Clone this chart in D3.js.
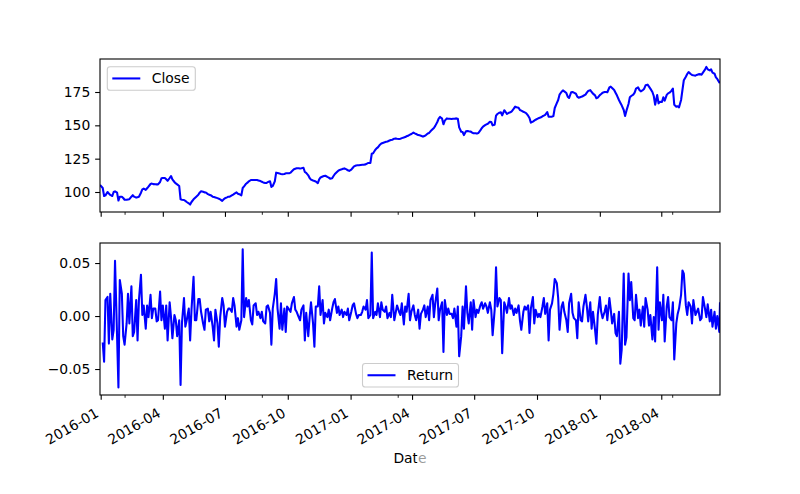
<!DOCTYPE html>
<html><head><meta charset="utf-8">
<script src="https://cdn.jsdelivr.net/npm/d3@7"></script>
<style>body{margin:0;background:#fff}svg{display:block}</style>
</head><body><svg id="c" width="800" height="494"></svg>
<script>
const dates = [
"2015-12-31",
"2016-01-04","2016-01-06","2016-01-08","2016-01-11","2016-01-13","2016-01-15","2016-01-18","2016-01-20","2016-01-22","2016-01-25","2016-01-27","2016-01-29",
"2016-02-01","2016-02-03","2016-02-05","2016-02-08","2016-02-10","2016-02-12","2016-02-15","2016-02-17","2016-02-19","2016-02-22","2016-02-24","2016-02-26",
"2016-02-29","2016-03-02","2016-03-04","2016-03-07","2016-03-09","2016-03-11","2016-03-14","2016-03-16","2016-03-18","2016-03-21","2016-03-23","2016-03-25",
"2016-03-28","2016-03-30","2016-04-01","2016-04-04","2016-04-06","2016-04-08","2016-04-11","2016-04-13","2016-04-15","2016-04-18","2016-04-20","2016-04-22",
"2016-04-25","2016-04-27","2016-04-29","2016-05-02","2016-05-04","2016-05-06","2016-05-09","2016-05-11","2016-05-13","2016-05-16","2016-05-18","2016-05-20",
"2016-05-23","2016-05-25","2016-05-27","2016-05-30","2016-06-01","2016-06-03","2016-06-06","2016-06-08","2016-06-10","2016-06-13","2016-06-15","2016-06-17",
"2016-06-20","2016-06-22","2016-06-24","2016-06-27","2016-06-29","2016-07-01","2016-07-04","2016-07-06","2016-07-08","2016-07-11","2016-07-13","2016-07-15",
"2016-07-18","2016-07-20","2016-07-22","2016-07-25","2016-07-27","2016-07-29","2016-08-01","2016-08-03","2016-08-05","2016-08-08","2016-08-10","2016-08-12",
"2016-08-15","2016-08-17","2016-08-19","2016-08-22","2016-08-24","2016-08-26","2016-08-29","2016-08-31","2016-09-02","2016-09-05","2016-09-07","2016-09-09",
"2016-09-12","2016-09-14","2016-09-16","2016-09-19","2016-09-21","2016-09-23","2016-09-26","2016-09-28","2016-09-30","2016-10-03","2016-10-05","2016-10-07",
"2016-10-10","2016-10-12","2016-10-14","2016-10-17","2016-10-19","2016-10-21","2016-10-24","2016-10-26","2016-10-28","2016-10-31","2016-11-02","2016-11-04",
"2016-11-07","2016-11-09","2016-11-11","2016-11-14","2016-11-16","2016-11-18","2016-11-21","2016-11-23","2016-11-25","2016-11-28","2016-11-30","2016-12-02",
"2016-12-05","2016-12-07","2016-12-09","2016-12-12","2016-12-14","2016-12-16","2016-12-19","2016-12-21","2016-12-23","2016-12-26","2016-12-28","2016-12-30",
"2017-01-02","2017-01-04","2017-01-06","2017-01-09","2017-01-11","2017-01-13","2017-01-16","2017-01-18","2017-01-20","2017-01-23","2017-01-25","2017-01-27",
"2017-01-30","2017-02-01","2017-02-03","2017-02-06","2017-02-08","2017-02-10","2017-02-13","2017-02-15","2017-02-17","2017-02-20","2017-02-22","2017-02-24",
"2017-02-27","2017-03-01","2017-03-03","2017-03-06","2017-03-08","2017-03-10","2017-03-13","2017-03-15","2017-03-17","2017-03-20","2017-03-22","2017-03-24",
"2017-03-27","2017-03-29","2017-03-31","2017-04-03","2017-04-05","2017-04-07","2017-04-10","2017-04-12","2017-04-14","2017-04-17","2017-04-19","2017-04-21",
"2017-04-24","2017-04-26","2017-04-28","2017-05-01","2017-05-03","2017-05-05","2017-05-08","2017-05-10","2017-05-12","2017-05-15","2017-05-17","2017-05-19",
"2017-05-22","2017-05-24","2017-05-26","2017-05-29","2017-05-31","2017-06-02","2017-06-05","2017-06-07","2017-06-09","2017-06-12","2017-06-14","2017-06-16",
"2017-06-19","2017-06-21","2017-06-23","2017-06-26","2017-06-28","2017-06-30","2017-07-03","2017-07-05","2017-07-07","2017-07-10","2017-07-12","2017-07-14",
"2017-07-17","2017-07-19","2017-07-21","2017-07-24","2017-07-26","2017-07-28","2017-07-31","2017-08-02","2017-08-04","2017-08-07","2017-08-09","2017-08-11",
"2017-08-14","2017-08-16","2017-08-18","2017-08-21","2017-08-23","2017-08-25","2017-08-28","2017-08-30","2017-09-01","2017-09-04","2017-09-06","2017-09-08",
"2017-09-11","2017-09-13","2017-09-15","2017-09-18","2017-09-20","2017-09-22","2017-09-25","2017-09-27","2017-09-29","2017-10-02","2017-10-04","2017-10-06",
"2017-10-09","2017-10-11","2017-10-13","2017-10-16","2017-10-18","2017-10-20","2017-10-23","2017-10-25","2017-10-27","2017-10-30","2017-11-01","2017-11-03",
"2017-11-06","2017-11-08","2017-11-10","2017-11-13","2017-11-15","2017-11-17","2017-11-20","2017-11-22","2017-11-24","2017-11-27","2017-11-29","2017-12-01",
"2017-12-04","2017-12-06","2017-12-08","2017-12-11","2017-12-13","2017-12-15","2017-12-18","2017-12-20","2017-12-22","2017-12-25","2017-12-27","2017-12-29",
"2018-01-01","2018-01-03","2018-01-05","2018-01-08","2018-01-10","2018-01-12","2018-01-15","2018-01-17","2018-01-19","2018-01-22","2018-01-24","2018-01-26",
"2018-01-29","2018-01-31","2018-02-02","2018-02-05","2018-02-07","2018-02-09","2018-02-12","2018-02-14","2018-02-16","2018-02-19","2018-02-21","2018-02-23",
"2018-02-26","2018-02-28","2018-03-02","2018-03-05","2018-03-07","2018-03-09","2018-03-12","2018-03-14","2018-03-16","2018-03-19","2018-03-21","2018-03-23",
"2018-03-26","2018-03-28","2018-03-30","2018-04-02","2018-04-04","2018-04-06","2018-04-09","2018-04-11","2018-04-13","2018-04-16","2018-04-18","2018-04-20",
"2018-04-23","2018-04-25","2018-04-27","2018-04-30","2018-05-02","2018-05-04","2018-05-07","2018-05-09","2018-05-11","2018-05-14","2018-05-16","2018-05-18",
"2018-05-21","2018-05-23","2018-05-25","2018-05-28","2018-05-30","2018-06-01","2018-06-04","2018-06-06","2018-06-08","2018-06-11","2018-06-13","2018-06-15",
"2018-06-18","2018-06-20","2018-06-22","2018-06-25","2018-06-26"
];

const closeValues = [
105.3,
103,97,97.5, 100,98.8,97.8, 97,100,100.5, 99.5,93.6,96.5,
96.5,95.5,94.2, 94.2,94.4,94.6, 96.5,97.6,96.5, 95.8,96.1,96.4,
99.5,102,102.5, 101.6,102.8,104, 106,106.3,105.9, 105.8,105.7,105.7,
107.5,110.3,110.5, 110.5,109.5,108.4, 110.5,112,109.4, 107.5,106.4,105.7,
104.5,94.5,94.2, 94,93.3,92.5, 91.5,90.6,92.5, 94.5,95.5,96.5,
97.9,99.5,100.5, 100.2,99.7,99.6, 98.4,98,97.6, 96.5,96.2,95.9,
95.4,95,94.5, 93.3,94.5,95.3, 96,96.5,96.5, 97.4,98,98.7,
99.7,98.7,98.4, 97.5,103,104.2, 106.2,107,108, 109,109,109,
109,109,108.7, 108.2,107.7,107.2, 106.7,106.8,107.5, 108,103.8,104.5,
108,114.5,114.3, 113.8,113.5,113.3, 113.5,114,114, 114,114.5,115.5,
117,117.4,117.75, 117.75,117.6,117.8, 118.2,115,114.3, 112.5,110.5,109.3,
108.6,108.3,107.9, 106.6,109.5,110.9, 111.6,112,112.2, 111.3,110.8,110,
110.3,112,113.5, 115,116,116.5, 117,117.4,117.7, 117,116.3,115.8,
116.8,118,119.2, 119.9,120,120.1, 120.3,120.4,120.5, 120.7,121.3,121.8,
121.8,128.7,129.1, 131.5,132.7,133.5, 135.5,136.4,136.8, 137.3,137.6,137.9,
138.6,139,139.2, 140,140.2,140, 139.8,140,140.4, 140.9,141.2,141.8,
142.4,143,143.5, 144.6,144,143.5, 142.7,142.5,142.2, 141.5,142,142.5,
143.9,144.3,145.5, 147,148,149.6, 152.5,155,156.3, 155,150.8,153.5,
155.2,155,154.9, 154.75,154.9,155, 155.2,155,148.5, 145.2,145,142.7,
145.6,145.8,145.5, 145.3,144.5,144, 144,143.8,144.2, 146.2,147.8,149,
150.1,150.7,151.2, 152.7,152.5,150, 150.5,157.3,158.5, 159.5,159.8,157.5,
161.3,160,158.5, 159.5,159.8,160.5, 162.5,164,163.6, 163.2,161.5,161,
160.2,159.7,159.2, 157.2,155.5,152, 152.8,153.5,154.2, 155,155.5,155.8,
156.8,157.3,157.8, 160,156.5,156.5, 156.5,157,163, 166.7,169,173,
175.2,176.2,175.5, 174.2,171.5,170.5, 174.8,175,174.5, 173.7,171.5,170.7,
171.3,171.6,172.2, 173,174.5,175.8, 176.4,175,173.8, 172.5,170.3,170.8,
172.7,173.5,174.5, 175,175,174.8, 178.4,179,178, 176.5,174.5,172.5,
169,167,165, 161.5,157,161, 166,171,172, 173,174.5,177.5,
178.5,176.5,175.5, 176.4,177.5,180, 180.5,179,177.5, 175,172,165.5,
172.7,166.5,167.7, 167.5,171,168.5, 172.8,174,174.5, 176,177.5,165.5,
164,164.3,163.5, 169,176.5,183.8, 186.5,188.5,190, 188.5,187.8,187.5,
187.3,187.8,188.2, 188.4,188,189.5, 191.8,193.8,192, 191.2,192,189.5,
188.7,186,184.8, 182.2,183
];

const returnValues = [
null,
-0.025,-0.043,0.015, 0.018,-0.026,0.021, -0.022,-0.013,0.052, -0.019,-0.0675,0.034,
0.021,-0.019,-0.027, -0.007,0.021,-0.007, 0.028,-0.019,-0.015, 0.015,-0.023,0.015,
0.039,0.001,0.010, -0.012,0.010,-0.001, 0.020,-0.002,0.007, 0.007,-0.005,-0.004,
0.023,-0.004,0.010, -0.012,0.010,-0.023, 0.013,-0.001,-0.021, 0.001,-0.004,-0.019,
-0.004,-0.065,-0.007, 0.017,-0.010,-0.004, 0.007,-0.023,0.006, 0.037,-0.004,-0.004,
0.016,0.016,0.004, -0.007,-0.013,0.006, 0.007,-0.005,0.004, -0.010,-0.023,0.006,
-0.007,-0.029,-0.001, 0.017,0.010,-0.010, 0.004,0.007,0.007, 0.004,0.017,0.010,
-0.010,-0.002,-0.013, -0.004,0.063,-0.001, 0.017,0.009,0.015, -0.004,-0.008,0.010,
0.012,0.001,0.004, -0.002,0.004,-0.005, -0.007,0.009,0.010, 0.003,-0.027,0.007,
0.021,0.035,0.007, -0.012,0.012,-0.013, 0.007,-0.015,0.009, 0.006,0.004,0.012,
0.018,0.006,0.004, -0.001,-0.004,0.006, 0.010,-0.023,0.003, -0.019,-0.001,0.013,
-0.007,-0.029,0.009, 0.009,0.028,0.001, 0.015,-0.007,0.003, -0.001,0.006,-0.004,
0.007,0.013,0.016, 0.003,0.009,0.001, 0.006,-0.001,0.004, 0.001,0.007,-0.004,
0.004,0.010,0.012, 0.002,-0.002,0.001, 0.001,0.004,0.009, 0.006,0.015,-0.002,
0.001,0.060,-0.002, 0.004,0.001,0.012, -0.001,0.013,0.006, 0.004,0.009,-0.002,
0.003,-0.001,0.020, -0.004,0.003,0.010, 0.004,0.001,0.012, -0.008,0.009,0.004,
0.021,-0.004,0.004, 0.010,0.001,-0.004, 0.006,-0.012,0.002, 0.006,0.010,-0.001,
0.009,-0.004,0.015, 0.020,-0.001,0.012, 0.026,-0.004,0.006, 0.013,-0.034,0.015,
0.001,0.007,0.002, 0.002,-0.002,0.007, -0.010,0.009,-0.038, -0.019,0.009,-0.012,
0.028,0.003,-0.007, 0.013,-0.013,0.015, -0.001,0.006,0.003, 0.010,0.013,0.007,
0.012,0.009,0.003, 0.013,0.006,-0.018, 0.006,0.046,0.009, 0.017,0.015,-0.035,
0.013,0.009,0.003, 0.017,0.007,0.010, 0.001,0.007,0.003, 0.010,-0.004,-0.013,
0.004,0.009,0.006, 0.010,-0.016,0.007, 0.018,-0.007,0.006, -0.001,0.002,-0.001,
0.009,0.017,0.002, 0.012,-0.023,0.006, 0.012,0.021,0.035, 0.031,0.017,-0.013,
0.009,0.013,0.004, -0.004,-0.015,0.012, 0.021,0.003,-0.002, -0.004,-0.021,0.013,
-0.004,-0.005,0.009, 0.020,0.009,-0.005, 0.013,-0.012,0.004, -0.013,-0.026,0.001,
0.018,0.004,-0.002, 0.004,0.010,-0.004, 0.017,0.006,-0.007, 0.002,-0.016,-0.019,
0.004,-0.045,-0.032, 0.040,-0.027,-0.020, 0.040,0.015,0.032, -0.002,-0.004,0.020,
-0.002,0.006,-0.009, 0.009,-0.010,0.017, 0.006,-0.009,0.001, -0.022,-0.001,-0.024,
0.046,-0.013,0.013, -0.004,0.020,-0.024, 0.009,0.018,-0.001, -0.004,0.013,-0.041,
-0.007,0.002,0.007, 0.020,0.043,0.040, 0.010,0.001,0.013, 0.009,-0.007,0.015,
0.001,0.004,0.007, -0.004,-0.002,0.018, 0.007,-0.001,0.011, -0.005,0.006,-0.010,
0.004,-0.012,0.000, -0.015,0.013
];

const closeTicks = [100, 125, 150, 175];
const returnTicks = [-0.05, 0, 0.05];
const majorTickDates = ["2016-01-01","2016-04-01","2016-07-01","2016-10-01","2017-01-01","2017-04-01","2017-07-01","2017-10-01","2018-01-01","2018-04-01"];
const minorTickDates = ["2016-02-05","2016-08-24","2017-03-11","2018-04-17"];

const FONT = '"DejaVu Sans", sans-serif';
const FS = 13.9;
const parse = d3.utcParse("%Y-%m-%d");
const rows = dates.map((d, i) => ({date: parse(d), close: closeValues[i], ret: returnValues[i]}));
const svg = d3.select("#c");

const L = 100, R = 720;
const top1 = 59, bot1 = 212, top2 = 243, bot2 = 395;
const x = d3.scaleUtc().domain(d3.extent(rows, d => d.date)).range([L, R]);
const yC = d3.scaleLinear().domain([85, 199.75]).range([bot1, top1]);
const yR = d3.scaleLinear().domain([-0.0745, 0.0689]).range([bot2, top2]);

const defs = svg.append("defs");
defs.append("clipPath").attr("id", "cp1").append("rect").attr("x", L).attr("y", top1).attr("width", R - L).attr("height", bot1 - top1);
defs.append("clipPath").attr("id", "cp2").append("rect").attr("x", L).attr("y", top2).attr("width", R - L).attr("height", bot2 - top2);

function styleAxis(g) {
  g.attr("font-family", FONT).attr("font-size", FS);
  g.select(".domain").remove();
  g.selectAll(".tick line").attr("stroke", "#000").attr("stroke-width", 1.1);
  g.selectAll(".tick text").attr("fill", "#000");
}

// lines
const lineC = d3.line().x(d => x(d.date)).y(d => yC(d.close));
const lineR = d3.line().defined(d => d.ret !== null).x(d => x(d.date)).y(d => yR(d.ret));
svg.append("path").datum(rows).attr("clip-path", "url(#cp1)").attr("d", lineC)
  .attr("fill", "none").attr("stroke", "#0000ff").attr("stroke-width", 2.08).attr("stroke-linejoin", "round");
svg.append("path").datum(rows).attr("clip-path", "url(#cp2)").attr("d", lineR)
  .attr("fill", "none").attr("stroke", "#0000ff").attr("stroke-width", 2.08).attr("stroke-linejoin", "round");

// frames
[[top1, bot1], [top2, bot2]].forEach(([t, b]) => {
  svg.append("rect").attr("x", L).attr("y", t).attr("width", R - L).attr("height", b - t)
    .attr("fill", "none").attr("stroke", "#000").attr("stroke-width", 1.1);
});

// y axes
svg.append("g").attr("transform", `translate(${L},0)`)
  .call(d3.axisLeft(yC).tickValues(closeTicks).tickSize(4.86).tickPadding(4.86).tickFormat(d3.format("d")))
  .call(styleAxis);
svg.append("g").attr("transform", `translate(${L},0)`)
  .call(d3.axisLeft(yR).tickValues(returnTicks).tickSize(4.86).tickPadding(4.86)
    .tickFormat(d => (d < 0 ? "\u2212" : "") + Math.abs(d).toFixed(2)))
  .call(styleAxis);

// x axes
const majors = majorTickDates.map(parse);
const minors = minorTickDates.map(parse);
svg.append("g").attr("transform", `translate(0,${bot1})`)
  .call(d3.axisBottom(x).tickValues(majors).tickSize(4.86).tickFormat(""))
  .call(styleAxis);
svg.append("g").attr("transform", `translate(0,${bot1})`)
  .call(d3.axisBottom(x).tickValues(minors).tickSize(2.8).tickFormat(""))
  .call(styleAxis).selectAll(".tick line").attr("stroke-width", 0.85);
svg.append("g").attr("transform", `translate(0,${bot2})`)
  .call(d3.axisBottom(x).tickValues(minors).tickSize(2.8).tickFormat(""))
  .call(styleAxis).selectAll(".tick line").attr("stroke-width", 0.85);
const gx = svg.append("g").attr("transform", `translate(0,${bot2})`)
  .call(d3.axisBottom(x).tickValues(majors).tickSize(4.86).tickFormat(d3.utcFormat("%Y-%m")))
  .call(styleAxis);
gx.selectAll(".tick text")
  .attr("x", 0).attr("y", 0).attr("dy", "0.35em")
  .attr("text-anchor", "end")
  .attr("transform", "translate(-4,16.7) rotate(-30)");

// x label
svg.append("text").attr("x", 410).attr("y", 463).attr("text-anchor", "middle")
  .attr("font-family", FONT).attr("font-size", FS).attr("fill", "#000").text("Date");

// legends
function legend(x0, y0, w, h, label) {
  const g = svg.append("g");
  g.append("rect").attr("x", x0).attr("y", y0).attr("width", w).attr("height", h).attr("rx", 2.8)
    .attr("fill", "#fff").attr("fill-opacity", 0.8).attr("stroke", "#cccccc").attr("stroke-width", 1.1);
  g.append("line").attr("x1", x0 + 5).attr("x2", x0 + 33).attr("y1", y0 + h / 2).attr("y2", y0 + h / 2)
    .attr("stroke", "#0000ff").attr("stroke-width", 2.08);
  g.append("text").attr("x", x0 + 44.5).attr("y", y0 + h / 2).attr("dy", "0.36em")
    .attr("font-family", FONT).attr("font-size", FS).attr("fill", "#000").text(label);
}
legend(107.3, 66.7, 88, 23.5, "Close");
legend(362.5, 363.5, 96, 23.5, "Return");

// faint overlay seen at bottom right of the reference
svg.append("rect").attr("x", 417).attr("y", 455).attr("width", 373).attr("height", 39)
  .attr("fill", "#fff").attr("fill-opacity", 0.6);
</script>
</body></html>
